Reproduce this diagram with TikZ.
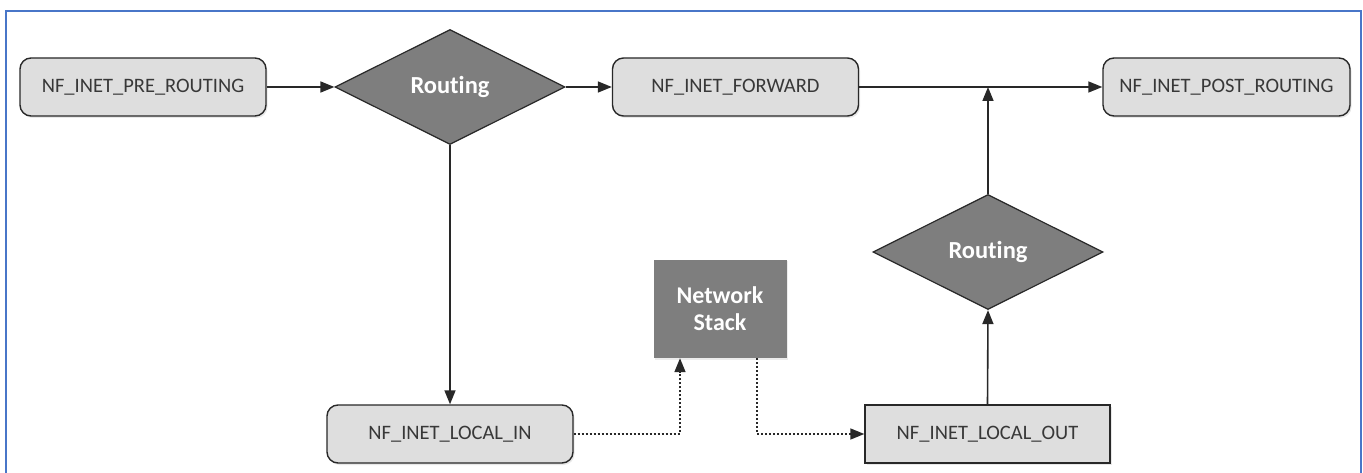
\documentclass[tikz,border=0pt]{standalone}
\usepackage{fontspec}
\setmainfont{Carlito}[Ligatures={NoCommon}]
\usetikzlibrary{shapes.geometric,arrows.meta,shadows}
\definecolor{frameblue}{RGB}{72,118,200}
\definecolor{hookfill}{RGB}{222,222,222}
\definecolor{darkfill}{RGB}{126,126,126}
\definecolor{edgecol}{RGB}{40,40,40}
\tikzset{
  hook/.style={draw=edgecol, line width=1.4pt, fill=hookfill,
    minimum width=246pt, minimum height=58pt, inner sep=0pt,
    font=\fontsize{20.5}{24}\selectfont, text=black!78,
    drop shadow={opacity=0.18, shadow xshift=1.5pt, shadow yshift=-2pt}},
  roundhook/.style={hook, rounded corners=11pt},
  decision/.style={diamond, aspect=2, draw=edgecol, line width=1.2pt, fill=darkfill,
    minimum width=230pt, minimum height=115pt, inner sep=0pt,
    font=\fontsize{24.5}{28}\selectfont\bfseries, text=white},
  stackbox/.style={fill=darkfill, minimum width=133pt, minimum height=98pt,
    inner sep=0pt, align=center, font=\fontsize{24}{27}\selectfont\bfseries, text=white,
    drop shadow={opacity=0.15, shadow xshift=1pt, shadow yshift=-1.5pt}},
  flow/.style={draw=edgecol, line width=1.6pt,
    -{Triangle[length=14pt,width=11pt]}},
  dotflow/.style={flow, dash pattern=on 2pt off 2pt}
}
\begin{document}
\begin{tikzpicture}[x=1pt,y=-1pt]
\useasboundingbox (0,0) rectangle (1363,473);
\fill[white] (0,0) rectangle (1363,473);
% outer frame
\draw[frameblue, line width=1.8pt] (6,473) -- (6,11) -- (1361,11) -- (1361,473);

% hook points and decisions
\node[roundhook] (pre)  at (143,87)   {NF\_INET\_PRE\_ROUTING};
\node[decision]  (rt1)  at (450,87)   {Routing};
\node[roundhook] (fwd)  at (735.5,87) {NF\_INET\_FORWARD};
\node[roundhook, minimum width=247pt] (post) at (1226.5,87) {NF\_INET\_POST\_ROUTING};
\node[decision]  (rt2)  at (988,252)  {Routing};
\node[stackbox]  (net)  at (720,309)  {Network\\Stack};
\node[roundhook] (lin)  at (450,434)  {NF\_INET\_LOCAL\_IN};
\node[hook, minimum width=245pt] (lout) at (987.5,434) {NF\_INET\_LOCAL\_OUT};

\coordinate (join) at (rt2.north |- fwd.east);

% packet flow
\draw[flow] (pre.east) -- (rt1.west);
\draw[flow] (rt1.east) -- (fwd.west);
\draw[flow] (fwd.east) -- (post.west);
\draw[flow] (rt2.north) -- (join);
\draw[flow] (rt1.south) -- (lin.north);
\draw[flow] (lout.north) -- (rt2.south);

% local delivery through the stack
\draw[dotflow] (lin.east) -| ([xshift=-40pt]net.south);
\draw[dotflow] ([xshift=37pt]net.south) |- (lout.west);
\end{tikzpicture}
\end{document}
